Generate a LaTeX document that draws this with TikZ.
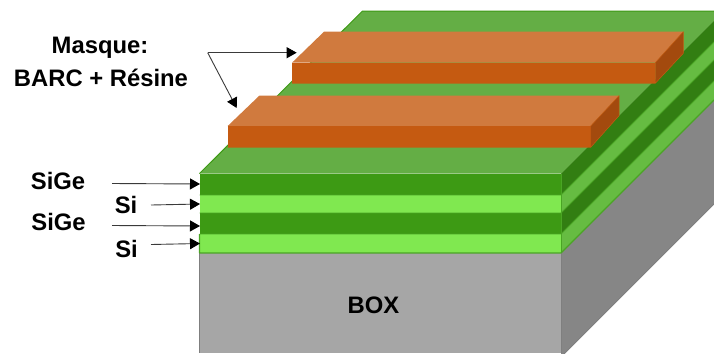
\documentclass[tikz,border=0pt]{standalone}
\usepackage{fontspec}
\setmainfont{Liberation Sans}
\usetikzlibrary{arrows.meta}
\definecolor{topgreen}{HTML}{64AE45}
\definecolor{edgegreen}{HTML}{4AA524}
\definecolor{sigefront}{HTML}{3D9A14}
\definecolor{sifront}{HTML}{80E850}
\definecolor{sigeside}{HTML}{327E12}
\definecolor{siside}{HTML}{66BC42}
\definecolor{boxfront}{HTML}{A6A6A6}
\definecolor{boxside}{HTML}{868686}
\definecolor{boxedge}{HTML}{7F7F7F}
\definecolor{masktop}{HTML}{D07A3E}
\definecolor{maskfront}{HTML}{C55A11}
\definecolor{maskside}{HTML}{A34A0E}
\definecolor{arrowgrey}{HTML}{3A3A3A}
\tikzset{
  lbl/.style={font=\fontsize{23.9}{27}\selectfont\bfseries, text=black, inner sep=0pt, align=center},
  pointer/.style={draw=arrowgrey, line width=0.9bp, -{Triangle[length=10bp,width=11bp,color=black]}},
  greenline/.style={draw=edgegreen, line width=0.8bp, line join=round},
  faint/.style={line width=0.5bp, line join=round}
}
\begin{document}
\begin{tikzpicture}[x=1bp,y=-1bp]
\useasboundingbox (0,0) rectangle (714,353);
\begin{scope}
\clip (0,0) rectangle (714,353);
% BOX
\fill[boxfront] (199.5,253) rectangle (561,353);
\fill[boxside] (561,253) -- (714,100) -- (714,204) -- (561,357) -- cycle;
\draw[boxedge, line width=0.8bp] (199.5,253) -- (199.5,353);
\draw[boxedge, line width=0.8bp] (561,253) -- (561,353);
\draw[boxedge, line width=0.8bp] (561,357) -- (714,204);
% front layers
\fill[sigefront] (199.5,173.5) rectangle (561,195);
\fill[sifront] (199.5,195) rectangle (561,213);
\fill[sigefront] (199.5,213) rectangle (561,234);
\fill[sifront] (199.5,234) rectangle (561,253);
% side layers
\fill[sigeside] (561,173.5) -- (714,20.5) -- (714,42) -- (561,195) -- cycle;
\fill[siside] (561,195) -- (714,42) -- (714,60) -- (561,213) -- cycle;
\fill[sigeside] (561,213) -- (714,60) -- (714,81) -- (561,234) -- cycle;
\fill[siside] (561,234) -- (714,81) -- (714,100) -- (561,253) -- cycle;
% top face
\fill[topgreen] (199.5,173.5) -- (362.5,11) -- (714,11) -- (714,20.5) -- (561,173.5) -- cycle;
\draw[sigefront, line width=1bp] (199.5,173.5) -- (362.5,11) -- (714,11);
% outlines
\draw[greenline] (199.5,195) -- (561,195) -- (714,42);
\draw[greenline] (199.5,213) -- (561,213) -- (714,60);
\draw[greenline] (199.5,234) -- (561,234) -- (714,81);
\draw[greenline, line width=1.1bp] (199.5,234) -- (199.5,253) -- (561,253) -- (714,100);
\draw[greenline] (561,173.5) -- (561,253);
% upper mask
\fill[masktop] (292,62.7) -- (324,31.7) -- (683.3,31.7) -- (655.3,62.7) -- cycle;
\fill[maskfront] (292,62.7) rectangle (655.3,83.3);
\fill[maskside] (655.3,62.7) -- (683.3,31.7) -- (683.3,53.3) -- (655.3,83.3) -- cycle;
\draw[maskfront, faint] (292,83.3) -- (655.3,83.3) -- (683.3,53.3) -- (683.3,31.7) -- (655.3,62.7) -- (655.3,83.3);
% lower mask
\fill[masktop] (227.7,126) -- (259.3,95.7) -- (619,95.7) -- (590.7,126) -- cycle;
\fill[maskfront] (227.7,126) rectangle (590.7,147.3);
\fill[maskside] (590.7,126) -- (619,95.7) -- (619,115.7) -- (590.7,147.3) -- cycle;
\draw[maskfront, faint] (227.7,147.3) -- (590.7,147.3) -- (619,115.7) -- (619,95.7) -- (590.7,126) -- (590.7,147.3);
\end{scope}
% labels
\node[lbl] (masque) at (100,47.5) {Masque:};
\node[lbl] (barc) at (101,77.5) {BARC + Résine};
\node[lbl] (sige1) at (58,181) {SiGe};
\node[lbl] (si1) at (126,205) {Si};
\node[lbl] (sige2) at (58.5,222) {SiGe};
\node[lbl] (si2) at (126.5,249) {Si};
\node[lbl] (box) at (373.5,305) {BOX};
% connector ends
\coordinate (mfrom) at (207.7,52.7);
\coordinate (mtipa) at (296.7,52.7);
\coordinate (mtipb) at (236.7,108);
\coordinate (a1) at (112,183.5);
\coordinate (b1) at (200,184);
\coordinate (a2) at (151,205);
\coordinate (b2) at (200,204);
\coordinate (a3) at (112,225.5);
\coordinate (b3) at (200,226);
\coordinate (a4) at (151,244.5);
\coordinate (b4) at (200,243.5);
\draw[pointer] (mfrom) -- (mtipa);
\draw[pointer] (mfrom) -- (mtipb);
\draw[pointer] (a1) -- (b1);
\draw[pointer] (a2) -- (b2);
\draw[pointer] (a3) -- (b3);
\draw[pointer] (a4) -- (b4);
\end{tikzpicture}
\end{document}
